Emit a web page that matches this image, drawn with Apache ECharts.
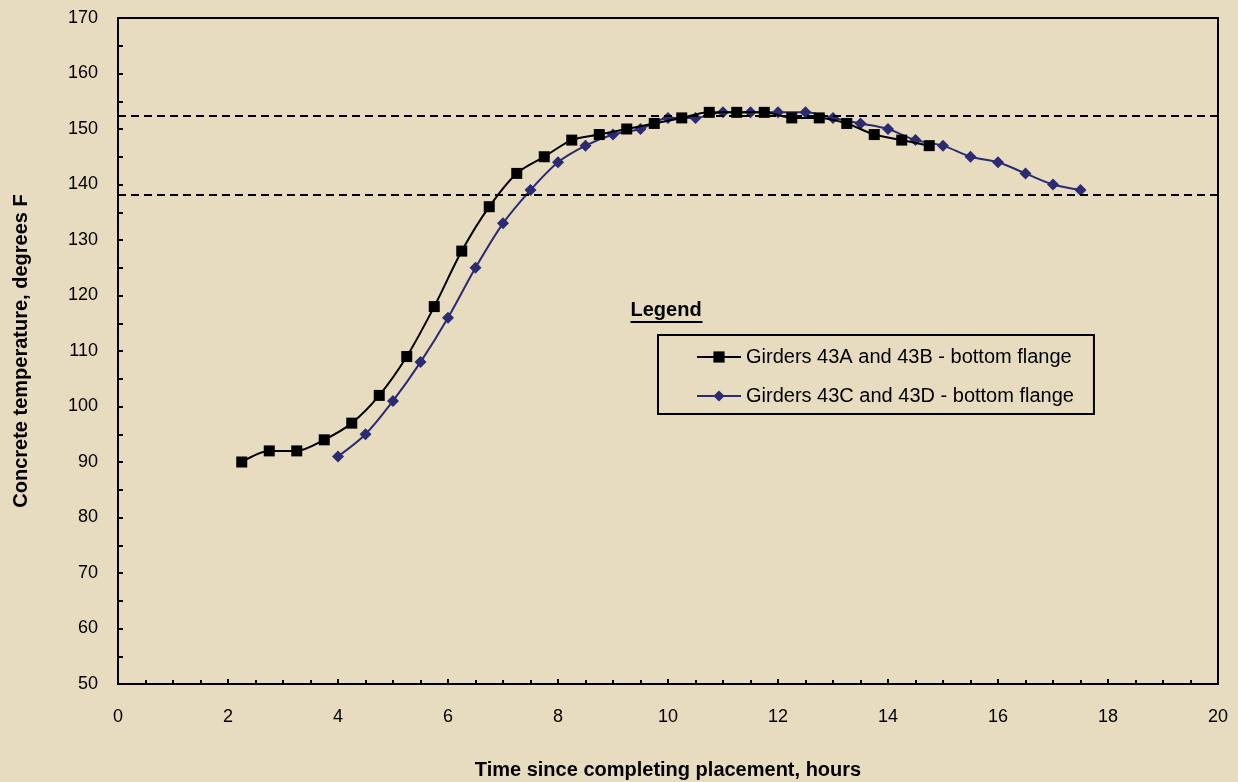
<!DOCTYPE html>
<html>
<head>
<meta charset="utf-8">
<script src="https://cdn.jsdelivr.net/npm/echarts@6/dist/echarts.min.js"></script>
<style>
  html, body { margin: 0; padding: 0; background: #e7dcbf; }
  #chart { width: 1238px; height: 782px; }
</style>
</head>
<body>
<div id="chart"></div>
<script>
// hours and temperatures (degrees F)
var hoursAB = [2.25, 2.75, 3.25, 3.75, 4.25, 4.75, 5.25, 5.75, 6.25, 6.75, 7.25, 7.75, 8.25,
    8.75, 9.25, 9.75, 10.25, 10.75, 11.25, 11.75, 12.25, 12.75, 13.25, 13.75, 14.25, 14.75];
var tempsAB = [90, 92, 92, 94, 97, 102, 109, 118, 128, 136, 142, 145, 148,
    149, 150, 151, 152, 153, 153, 153, 152, 152, 151, 149, 148, 147];

var hoursCD = [4, 4.5, 5, 5.5, 6, 6.5, 7, 7.5, 8, 8.5, 9, 9.5, 10, 10.5, 11, 11.5,
    12, 12.5, 13, 13.5, 14, 14.5, 15, 15.5, 16, 16.5, 17, 17.5];
var tempsCD = [91, 95, 101, 108, 116, 125, 133, 139, 144, 147, 149, 150, 152, 152, 153, 153,
    153, 153, 152, 151, 150, 148, 147, 145, 144, 142, 140, 139];

// dashed reference levels
var refLevels = [152.3, 138.2];

var seriesNames = ['Girders 43A and 43B - bottom flange', 'Girders 43C and 43D - bottom flange'];

function pairs(xs, ys) {
    return xs.map(function (x, i) { return [x, ys[i]]; });
}

var myChart = echarts.init(document.getElementById('chart'));

var font = 'Liberation Sans, Arial, Helvetica, sans-serif';

var option = {
    backgroundColor: '#e7dcbf',
    animation: false,
    textStyle: { fontFamily: font, color: '#000' },
    grid: {
        left: 118, right: 20, top: 18, bottom: 98,
        outerBoundsMode: 'none',
        show: true, borderColor: '#000', borderWidth: 2
    },
    xAxis: {
        type: 'value', min: 0, max: 20, interval: 2,
        name: 'Time since completing placement, hours',
        nameLocation: 'middle', nameGap: 76,
        nameTextStyle: { fontSize: 20, fontWeight: 'bold', color: '#000' },
        axisLine: { lineStyle: { color: '#000', width: 2 } },
        axisTick: { inside: true, length: 5, lineStyle: { color: '#000', width: 2 } },
        minorTick: { show: true, splitNumber: 4, length: 4, lineStyle: { color: '#000', width: 2 } },
        axisLabel: { fontSize: 18, color: '#000', margin: 24 },
        splitLine: { show: false }
    },
    yAxis: {
        type: 'value', min: 50, max: 170, interval: 10,
        name: 'Concrete temperature, degrees F',
        nameLocation: 'middle', nameGap: 87,
        nameTextStyle: { fontSize: 20, fontWeight: 'bold', color: '#000' },
        axisLine: { lineStyle: { color: '#000', width: 2 } },
        axisTick: { inside: true, length: 5, lineStyle: { color: '#000', width: 2 } },
        minorTick: { show: true, splitNumber: 2, length: 5, lineStyle: { color: '#000', width: 2 } },
        axisLabel: { fontSize: 18, color: '#000', margin: 20 },
        splitLine: { show: false }
    },
    legend: {
        orient: 'vertical',
        left: 658, top: 335,
        padding: [12, 20, 8, 38],
        itemGap: 19,
        itemWidth: 44, itemHeight: 14,
        borderColor: '#000', borderWidth: 2,
        textStyle: { fontSize: 20, color: '#000', fontFamily: font },
        data: seriesNames
    },
    graphic: [{
        type: 'group',
        left: 628, top: 300,
        children: [
            { type: 'text', left: 0, top: 0,
              style: { text: 'Legend', font: 'bold 20px ' + font, fill: '#000' } },
            { type: 'line', shape: { x1: 0, y1: 22, x2: 72, y2: 22 },
              style: { stroke: '#000', lineWidth: 2 } }
        ]
    }],
    series: [{
        name: seriesNames[0],
        type: 'line',
        smooth: 0.3,
        data: pairs(hoursAB, tempsAB),
        symbol: 'rect', symbolSize: 11,
        itemStyle: { color: '#000' },
        lineStyle: { color: '#000', width: 2 },
        markLine: {
            silent: true, symbol: 'none',
            label: { show: false },
            lineStyle: { color: '#000', type: [8, 5], width: 2 },
            data: refLevels.map(function (v) { return { yAxis: v }; })
        },
        z: 3
    }, {
        name: seriesNames[1],
        type: 'line',
        smooth: 0.3,
        data: pairs(hoursCD, tempsCD),
        symbol: 'diamond', symbolSize: 12,
        itemStyle: { color: '#2b2b73' },
        lineStyle: { color: '#2b2b73', width: 2 },
        z: 2
    }]
};

myChart.setOption(option);
</script>
</body>
</html>
